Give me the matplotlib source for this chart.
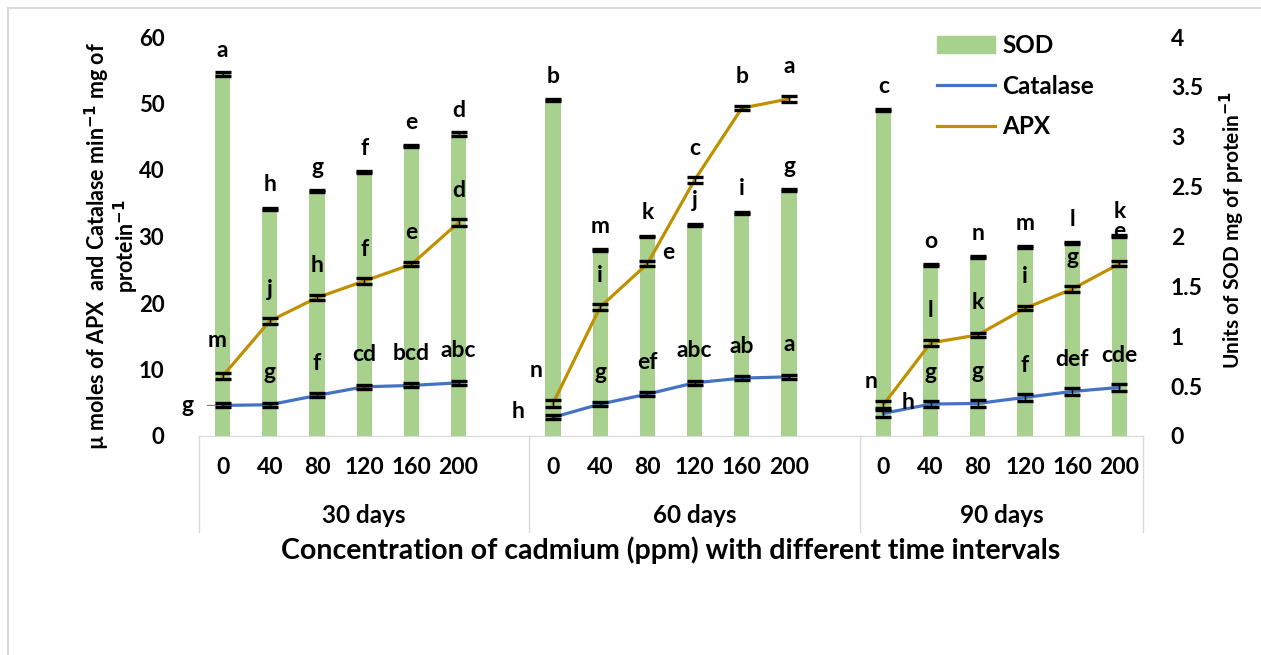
import matplotlib.pyplot as plt
from matplotlib.patches import Patch
from matplotlib.lines import Line2D
import matplotlib.transforms as mtransforms
import numpy as np

plt.rcParams['font.family'] = ['Lato', 'DejaVu Sans']
plt.rcParams['font.weight'] = 'bold'
plt.rcParams['mathtext.default'] = 'bf'

# data
groups = ['30 days', '60 days', '90 days']
conc = ['0', '40', '80', '120', '160', '200']

sod = [[3.63, 2.28, 2.46, 2.65, 2.91, 3.03],
       [3.37, 1.86, 2.00, 2.12, 2.24, 2.47],
       [3.27, 1.71, 1.79, 1.89, 1.93, 2.01]]
sod_err = [[0.02, 0.01, 0.01, 0.01, 0.01, 0.02],
           [0.01, 0.01, 0.01, 0.01, 0.01, 0.01],
           [0.01, 0.01, 0.01, 0.01, 0.01, 0.01]]
sod_let = [['a', 'h', 'g', 'f', 'e', 'd'],
           ['b', 'm', 'k', 'j', 'i', 'g'],
           ['c', 'o', 'n', 'm', 'l', 'k']]

apx = [[9.0, 17.3, 20.8, 23.3, 25.8, 32.1],
       [4.9, 19.4, 25.9, 38.5, 49.3, 50.7],
       [4.7, 14.0, 15.2, 19.2, 22.1, 25.9]]
apx_err = [[0.5, 0.4, 0.4, 0.4, 0.3, 0.5],
           [0.5, 0.4, 0.4, 0.5, 0.3, 0.5],
           [0.5, 0.4, 0.3, 0.3, 0.4, 0.4]]
apx_let = [['m', 'j', 'h', 'f', 'e', 'd'],
           ['n', 'i', 'e', 'c', 'b', 'a'],
           ['n', 'l', 'k', 'i', 'g', 'e']]

cat = [[4.6, 4.7, 6.1, 7.4, 7.6, 8.0],
       [2.8, 4.8, 6.3, 8.0, 8.7, 8.9],
       [3.4, 4.8, 4.9, 5.8, 6.7, 7.3]]
cat_err = [[0.3, 0.3, 0.3, 0.3, 0.3, 0.3],
           [0.3, 0.3, 0.3, 0.3, 0.3, 0.3],
           [0.5, 0.5, 0.5, 0.5, 0.5, 0.5]]
cat_let = [['g', 'g', 'f', 'cd', 'bcd', 'abc'],
           ['h', 'g', 'ef', 'abc', 'ab', 'a'],
           ['h', 'g', 'g', 'f', 'def', 'cde']]

green = '#A9D18E'
blue = '#4472C4'
gold = '#BF9000'
grey = '#D9D9D9'

fig = plt.figure(figsize=(12.61, 6.55), dpi=100)
ax = fig.add_axes([199 / 1261, 1 - 436 / 655, 944 / 1261, 399 / 655])
ax2 = ax.twinx()
ax.set_zorder(ax2.get_zorder() + 1)
ax.patch.set_visible(False)

step = len(conc) + 1
xs = [np.arange(len(conc)) + g * step for g in range(len(groups))]

# letter label offsets (points) that differ from default
cat_off = {(0, 0): (-25, 0), (1, 0): (-25, 4), (2, 0): (18, 8)}
apx_off = {(0, 0): (-4, 26), (1, 0): (-12, 24), (1, 2): (15, 8), (2, 0): (-9, 17)}

lab_fs = 16.5
for g in range(len(groups)):
    ax2.bar(xs[g], sod[g], width=0.32, color=green, zorder=1)
    ax2.errorbar(xs[g], sod[g], yerr=sod_err[g], fmt='none', ecolor='black',
                 elinewidth=1, capsize=5.5, capthick=2.4, zorder=2)
    for i in range(len(conc)):
        ax2.annotate(sod_let[g][i], (xs[g][i], sod[g][i]), xytext=(0, 17),
                     textcoords='offset points', ha='center', va='center',
                     fontsize=lab_fs, fontweight='bold')

    ax.plot(xs[g], cat[g], color=blue, lw=2.3, zorder=3)
    ax.errorbar(xs[g], cat[g], yerr=cat_err[g], fmt='none', ecolor='black',
                elinewidth=1, capsize=5.5, capthick=2.4, zorder=4)
    ax.plot(xs[g], apx[g], color=gold, lw=2.3, zorder=3)
    ax.errorbar(xs[g], apx[g], yerr=apx_err[g], fmt='none', ecolor='black',
                elinewidth=1, capsize=5.5, capthick=2.4, zorder=4)
    for i in range(len(conc)):
        dx, dy = cat_off.get((g, i), (0, 23))
        ax.annotate(cat_let[g][i], (xs[g][i], cat[g][i]), xytext=(dx, dy),
                    textcoords='offset points', ha='center', va='center',
                    fontsize=lab_fs, fontweight='bold', zorder=5)
        dx, dy = apx_off.get((g, i), (0, 23))
        ax.annotate(apx_let[g][i], (xs[g][i], apx[g][i]), xytext=(dx, dy),
                    textcoords='offset points', ha='center', va='center',
                    fontsize=lab_fs, fontweight='bold', zorder=5)

# leader line for the first catalase label
ax.annotate('', (xs[0][0], cat[0][0]), xytext=(-13, 0), textcoords='offset points',
            arrowprops=dict(arrowstyle='-', color='grey', lw=0.8))

ax.set_xlim(-0.5, len(groups) * step - 1.5)
ax.set_ylim(0, 60)
ax2.set_ylim(0, 4)
ax.set_yticks(np.arange(0, 61, 10))
ax2.set_yticks(np.arange(0, 4.01, 0.5))
ax2.set_yticklabels(['0', '0.5', '1', '1.5', '2', '2.5', '3', '3.5', '4'])
ax.tick_params(axis='y', length=0, pad=25, labelsize=16)
ax2.tick_params(axis='y', length=0, pad=20, labelsize=16.5)
for a in (ax, ax2):
    for s in ('top', 'left', 'right'):
        a.spines[s].set_visible(False)
    a.spines['bottom'].set_color(grey)
ax.set_xticks([])

# two-level category axis
trans = mtransforms.blended_transform_factory(ax.transData, ax.transAxes)
for g in range(len(groups)):
    for i in range(len(conc)):
        ax.text(xs[g][i], -0.08, conc[i], transform=trans, ha='center', va='center',
                fontsize=16.5, fontweight='bold')
    left = g * step - 0.5
    right = min(left + step, len(groups) * step - 1.5)
    ax.text((left + right) / 2, -0.2, groups[g], transform=trans, ha='center',
            va='center', fontsize=17.5, fontweight='bold')
bounds = [g * step - 0.5 for g in range(len(groups))] + [len(groups) * step - 1.5]
for b in bounds:
    ax.plot([b, b], [0, -0.24], transform=trans, color=grey, lw=1, clip_on=False)

ax.text(0.5, -0.287, 'Concentration of cadmium (ppm) with different time intervals',
        transform=ax.transAxes, ha='center', va='center', fontsize=20.5, fontweight='bold')

fig.text(112 / 1261, 1 - 246 / 655,
         'µ moles of APX  and Catalase min$^{-1}$ mg of\nprotein$^{-1}$',
         rotation=90, ha='center', va='center', fontsize=15.5, fontweight='bold',
         multialignment='center', linespacing=1.0)
fig.text(1232 / 1261, 1 - 230 / 655, 'Units of SOD mg of protein$^{-1}$',
         rotation=90, ha='center', va='center', fontsize=15, fontweight='bold')

handles = [Patch(color=green, label='SOD'),
           Line2D([], [], color=blue, lw=2.3, label='Catalase'),
           Line2D([], [], color=gold, lw=2.3, label='APX')]
fig.legend(handles=handles, loc='upper left', bbox_to_anchor=(915 / 1261, 1 - 12 / 655),
           frameon=False, handlelength=2.4, handleheight=0.7,
           handletextpad=0.3, labelspacing=0.73, prop={'weight': 'bold', 'size': 17.5})

# chart area border (top and left edges)
fig.add_artist(Line2D([8 / 1261, 8 / 1261], [0, 1 - 8 / 655], color=grey, lw=1.5))
fig.add_artist(Line2D([8 / 1261, 1], [1 - 8 / 655, 1 - 8 / 655], color=grey, lw=1.5))

fig.savefig('out.png', dpi=100)
